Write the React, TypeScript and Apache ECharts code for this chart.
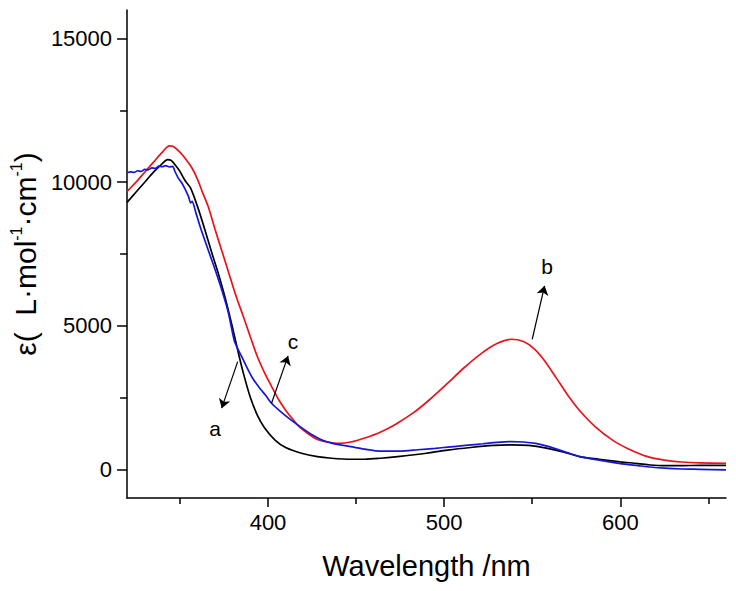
import React, { useEffect, useRef } from "react";
import * as echarts from "echarts";

const FONT = "'Liberation Sans', Arial, sans-serif";

// Curve a (black)
const aX = [320, 325, 330, 335, 340, 343, 345, 348, 350, 353, 356, 360, 364, 368, 372, 376, 380, 383, 386, 390, 394, 398, 404, 410, 419, 428, 436, 447, 455, 464, 475, 490, 502, 515, 528, 538, 548, 558, 568, 577, 588, 600, 610, 617, 625, 635, 645, 660];
const aY = [9300, 9650, 10000, 10350, 10650, 10790, 10760, 10550, 10380, 10050, 9800, 9150, 8380, 7560, 6780, 5900, 4900, 4100, 3350, 2500, 1880, 1450, 1020, 760, 560, 440, 385, 350, 350, 385, 450, 560, 670, 760, 830, 850, 830, 740, 600, 440, 349, 260, 200, 150, 125, 130, 135, 140];

// Curve b (red)
const bX = [320, 325, 330, 335, 340, 344, 346, 350, 354, 357, 360, 363, 366, 370, 374, 378, 382, 386, 390, 394, 398, 402, 406, 410, 414, 418, 423, 428, 434, 440, 447, 455, 464, 473, 483, 492, 502, 511, 521, 530, 538, 545, 551, 557, 564, 570, 577, 586, 596, 605, 615, 625, 635, 645, 660];
const bY = [9680, 10000, 10350, 10700, 11050, 11270, 11250, 11050, 10750, 10480, 10100, 9620, 9160, 8345, 7570, 6790, 6010, 5323, 4610, 3920, 3370, 2890, 2430, 2060, 1750, 1470, 1230, 1040, 950, 905, 950, 1090, 1300, 1590, 1990, 2440, 3000, 3520, 4030, 4380, 4530, 4450, 4200, 3780, 3150, 2600, 2040, 1470, 1000, 700, 450, 320, 255, 225, 210];

// Curve c (blue)
const cX = [320, 322, 324, 326, 328, 330, 332, 334, 336, 338, 340, 342, 344, 346, 347, 349, 351, 353, 355, 356, 357, 359, 362, 366, 370, 374, 377.5, 381, 385, 388, 391, 395, 399, 402, 407, 413, 419, 425, 430, 436, 442, 447, 455, 464, 475, 485, 495, 502, 512, 522, 530, 538, 545, 552, 560, 568, 577, 588, 600, 610, 617, 625, 635, 645, 660];
const cY = [10330, 10360, 10340, 10400, 10380, 10450, 10430, 10500, 10480, 10560, 10540, 10580, 10530, 10550, 10400, 10150, 9980, 9750, 9480, 9280, 9330, 8950, 8350, 7650, 6950, 6200, 5450, 4450, 3930, 3550, 3200, 2850, 2550, 2300, 2020, 1720, 1450, 1200, 1040, 910, 840, 790, 700, 630, 630, 680, 730, 770, 830, 890, 940, 965, 950, 900, 780, 620, 440, 320, 200, 130, 80, 40, 10, 0, -20];

const xMajorTicks = [400, 500, 600];
const xMinorTicks = [350, 450, 550, 650];
const yMajorTicks = [0, 5000, 10000, 15000];
const yMinorTicks = [2500, 7500, 12500];

// Annotation arrows: [x1, y1, x2, y2] (arrowhead at second point)
const arrows = [
  [382.8, 3750, 373.7, 2130],
  [402, 2300, 411.4, 3950],
  [550, 4530, 557, 6390],
];
const labelNames = ["a", "c", "b"];
const labelX = [369.9, 414.2, 558.5];
const labelY = [1430, 4450, 7070];

const zip = (xs: number[], ys: number[]) => xs.map((x, i) => [x, ys[i]]);

export default function App() {
  const ref = useRef<HTMLDivElement>(null);
  useEffect(() => {
    if (!ref.current) return;
    const chart = echarts.init(ref.current, undefined, { renderer: "svg" });
    const axisLine = { show: true, onZero: false, lineStyle: { color: "#000", width: 1.5 } };
    const plain = (v: number) => String(v);
    chart.setOption({
      animation: false,
      backgroundColor: "#fff",
      grid: { left: 125, right: 10, top: 10, bottom: 93, containLabel: false },
      xAxis: [
        {
          type: "value",
          min: 320,
          max: 660,
          position: "bottom",
          axisLine,
          axisTick: { show: true, customValues: xMajorTicks, length: 9, lineStyle: { color: "#000", width: 1.5 } },
          axisLabel: { customValues: xMajorTicks, formatter: plain, fontSize: 22, color: "#000", fontFamily: FONT, margin: 13 },
          splitLine: { show: false },
          name: "Wavelength /nm",
          nameLocation: "middle",
          nameGap: 53,
          nameTextStyle: { fontSize: 29, color: "#000", fontFamily: FONT },
        },
        {
          type: "value",
          min: 320,
          max: 660,
          position: "bottom",
          axisLine: { show: false, onZero: false },
          axisTick: { show: true, customValues: xMinorTicks, length: 6, lineStyle: { color: "#000", width: 1.5 } },
          axisLabel: { show: false },
          splitLine: { show: false },
        },
      ],
      yAxis: [
        {
          type: "value",
          min: -1000,
          max: 16000,
          position: "left",
          axisLine,
          axisTick: { show: true, customValues: yMajorTicks, length: 10, lineStyle: { color: "#000", width: 1.5 } },
          axisLabel: { customValues: yMajorTicks, formatter: plain, fontSize: 22, color: "#000", fontFamily: FONT, margin: 15 },
          splitLine: { show: false },
          name: "{m|ε(  L·mol}{s|-1}{m|·cm}{s|-1}{m|)}",
          nameLocation: "middle",
          nameGap: 73,
          nameTextStyle: {
            color: "#000",
            fontFamily: FONT,
            rich: {
              m: { fontSize: 30, fontFamily: FONT, color: "#000", lineHeight: 34 },
              s: { fontSize: 16, fontFamily: FONT, color: "#000", verticalAlign: "top", lineHeight: 34 },
            },
          },
        },
        {
          type: "value",
          min: -1000,
          max: 16000,
          position: "left",
          axisLine: { show: false, onZero: false },
          axisTick: { show: true, customValues: yMinorTicks, length: 7, lineStyle: { color: "#000", width: 1.5 } },
          axisLabel: { show: false },
          splitLine: { show: false },
        },
      ],
      series: [
        {
          type: "line",
          name: "a",
          data: zip(aX, aY),
          showSymbol: false,
          smooth: 0.3,
          lineStyle: { color: "#000", width: 1.7 },
          z: 3,
          markLine: {
            silent: true,
            symbol: ["none", "arrow"],
            symbolSize: 9,
            label: { show: false },
            lineStyle: { color: "#000", width: 1.2, type: "solid" },
            data: arrows.map((a) => [{ coord: [a[0], a[1]] }, { coord: [a[2], a[3]] }]),
          },
          markPoint: {
            silent: true,
            symbol: "circle",
            symbolSize: 0,
            label: { show: true, position: "inside", fontSize: 21, color: "#000", fontFamily: FONT, formatter: (p: any) => p.name },
            data: labelNames.map((n, i) => ({ name: n, coord: [labelX[i], labelY[i]] })),
          },
        },
        {
          type: "line",
          name: "b",
          data: zip(bX, bY),
          showSymbol: false,
          smooth: 0.3,
          lineStyle: { color: "#e8141c", width: 1.7 },
          z: 2,
        },
        {
          type: "line",
          name: "c",
          data: zip(cX, cY),
          showSymbol: false,
          smooth: 0.2,
          lineStyle: { color: "#1616d8", width: 1.7 },
          z: 4,
        },
      ],
    });
    return () => chart.dispose();
  }, []);
  return <div ref={ref} style={{ position: "absolute", left: 0, top: 0, width: 736, height: 591 }} />;
}
